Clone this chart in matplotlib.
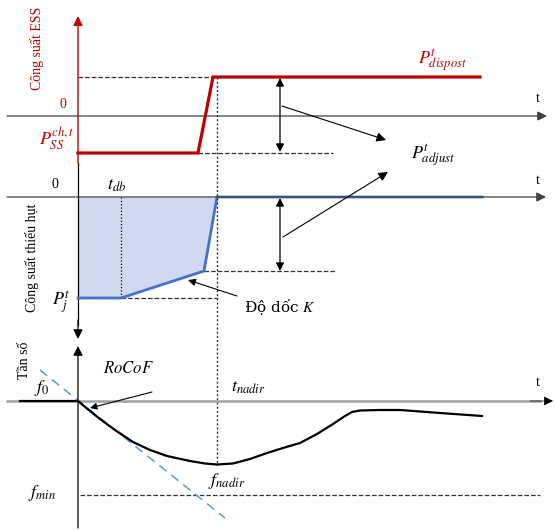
import numpy as np
import matplotlib.pyplot as plt

plt.rcParams['mathtext.fontset'] = 'stix'

# sketch is laid out in pixel units (x right, y down)
W, H = 555, 530

# top panel: ESS power
ess_x = [78, 198, 213, 480]
ess_y = [153, 153, 77, 77]
ess_zero = 116

# middle panel: power deficit
def_x = [78, 121, 204, 217, 482]
def_y = [298, 298, 271, 197, 197]
def_zero = 197

# bottom panel: frequency
freq_x = [20, 78, 90, 100, 115, 133, 150, 167, 190, 205, 217, 233, 250, 267, 283,
          300, 317, 333, 345, 352, 360, 380, 400, 440, 482]
freq_y = [401, 401, 411, 419, 430, 442, 450, 456, 461, 463.5, 464.5, 463.5, 459, 453, 448,
          443, 434, 424, 416, 412, 410.5, 410, 410, 413, 416]
freq_zero = 401
rocof_x = [40, 225]
rocof_y = [370, 518]
f_min = 495

t_db = 121
t_nadir = 217

red = '#c00000'
blue = '#4472c4'

fig = plt.figure(figsize=(W / 100, H / 100), dpi=100)
ax = fig.add_axes([0, 0, 1, 1])
ax.set_xlim(0, W)
ax.set_ylim(H, 0)
ax.axis('off')


def arrow(x0, y0, x1, y1, color='black', lw=0.9, style='-|>', ms=14):
    ax.annotate('', xy=(x1, y1), xytext=(x0, y0),
                arrowprops=dict(arrowstyle=style, color=color, lw=lw,
                                mutation_scale=ms, shrinkA=0, shrinkB=0))


# ---- top panel ----
arrow(78, 163, 78, 16, color=red, lw=1.0)
arrow(7, ess_zero, 547, ess_zero, color='#404040')
ax.plot([78, 420], [77, 77], ls='--', color='#333333', lw=0.9)
ax.plot([198, 333], [153, 153], ls='--', color='#333333', lw=0.9)
ax.plot(ess_x, ess_y, color=red, lw=2.3, solid_joinstyle='miter')
arrow(280, 78, 280, 152, style='<|-|>', ms=12)
arrow(282, 106, 386, 140, lw=0.8)

ax.text(37, 48, 'Công suất ESS', rotation=90, color=red, fontsize=10,
        family='Liberation Serif', ha='center', va='center')
ax.text(63, 105, '0', color=red, fontsize=10, family='Liberation Serif',
        ha='center', va='center')
ax.text(538, 98, 't', fontsize=10, family='Liberation Serif', ha='center', va='center')
ax.text(57, 139, r'$P_{SS}^{ch,t}$', color=red, fontsize=13, ha='center', va='center')
ax.text(442, 61, r'$P_{dispost}^{t}$', color=red, fontsize=13, ha='center', va='center')
ax.text(433, 156, r'$P_{adjust}^{t}$', fontsize=13, ha='center', va='center')

# ---- middle panel ----
ax.plot([78, 78], [163, 325], color='black', lw=0.9)
arrow(78, 320, 78, 339)
arrow(7, def_zero, 546, def_zero, color='#404040')
ax.fill_between(def_x[:4], def_y[:4], def_zero, color='#cfdaee', lw=0)
ax.plot([t_db, t_db], [def_zero, 298], ls=':', color='black', lw=0.9)
ax.plot([121, 217], [298, 298], ls='--', color='#333333', lw=0.9)
ax.plot([204, 335], [271, 271], ls='--', color='#333333', lw=0.9)
ax.plot(def_x, def_y, color=blue, lw=2.0, solid_joinstyle='miter')
arrow(280, 198, 280, 271, style='<|-|>', ms=12)
arrow(283, 237, 388, 172, lw=0.8)
arrow(237, 296, 188, 280, lw=0.8, ms=11)

ax.text(32, 258, 'Công suất thiếu hụt', rotation=90, fontsize=10,
        family='Liberation Serif', ha='center', va='center')
ax.text(55, 185, '0', fontsize=10, family='Liberation Serif', ha='center', va='center')
ax.text(538, 181, 't', fontsize=10, family='Liberation Serif', ha='center', va='center')
ax.text(117, 185, r'$t_{db}$', fontsize=13, ha='center', va='center')
ax.text(61, 303, r'$P_{j}^{t}$', fontsize=13, ha='center', va='center')
ax.text(280, 307, r'Độ dốc $K$', fontsize=11, family='DejaVu Serif', ha='center', va='center')

# ---- bottom panel ----
ax.plot([t_nadir, t_nadir], [77, 465], ls=(0, (1.5, 1.5)), color='#333333', lw=1.0)
arrow(78, 528, 78, 346)
ax.plot([7, 540], [freq_zero, freq_zero], color='#a0a0a0', lw=1.8)
arrow(530, freq_zero, 553, freq_zero, color='black', lw=0.5)
ax.plot([80, 540], [f_min, f_min], ls='--', color='#333333', lw=0.9)
ax.plot(rocof_x, rocof_y, ls=(0, (6, 4)), color='#5b9bd5', lw=1.1)
ax.plot(freq_x, freq_y, color='black', lw=1.6)
arrow(152, 392, 90, 408, lw=0.8, ms=10)

ax.text(25, 360, 'Tần số', rotation=90, fontsize=10, family='Liberation Serif',
        ha='center', va='center')
ax.text(538, 382, 't', fontsize=10, family='Liberation Serif', ha='center', va='center')
ax.text(42, 388, r'$f_0$', fontsize=13, ha='center', va='center')
ax.text(128, 368, r'$RoCoF$', fontsize=12, ha='center', va='center')
ax.text(248, 387, r'$t_{nadir}$', fontsize=13, ha='center', va='center')
ax.text(227, 481, r'$f_{nadir}$', fontsize=13, ha='center', va='center')
ax.text(42, 493, r'$f_{min}$', fontsize=13, ha='center', va='center')

fig.savefig('out.png', dpi=100, facecolor='white')
